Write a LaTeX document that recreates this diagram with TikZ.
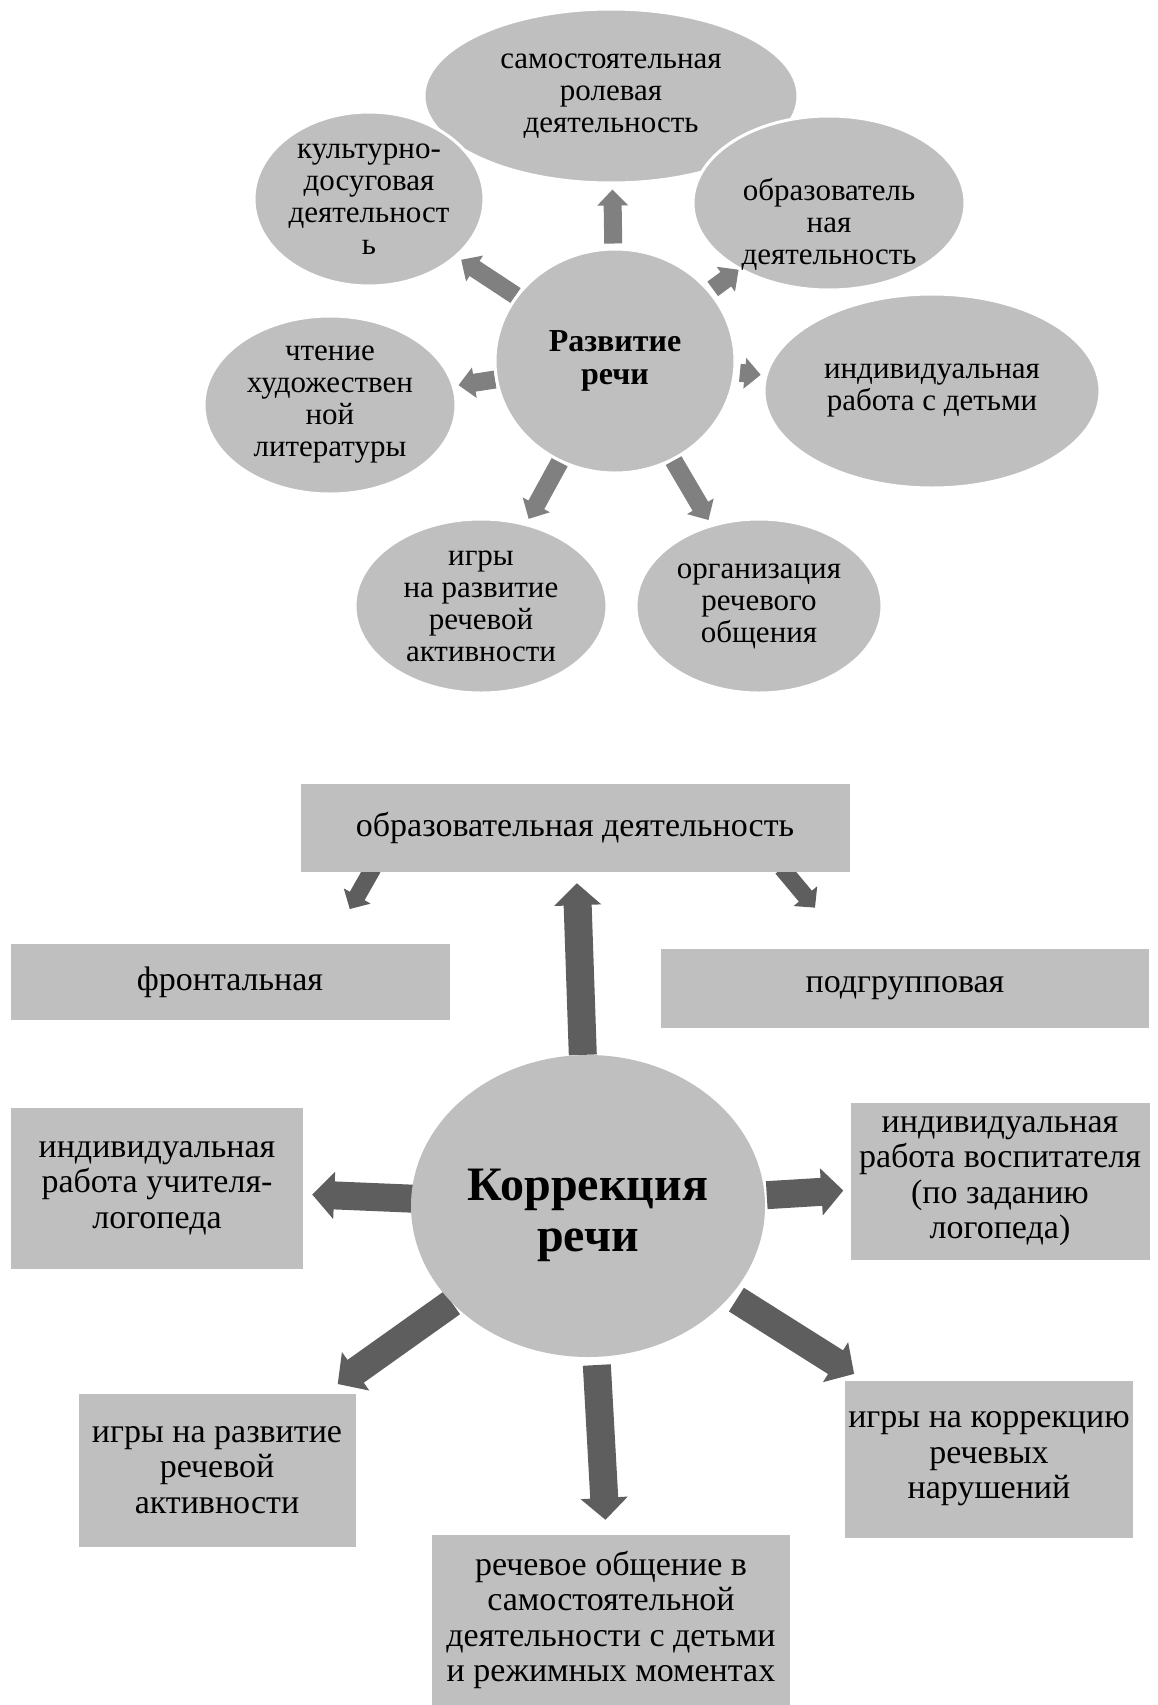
\documentclass[tikz,border=0pt]{standalone}
\usepackage{fontspec}
\setmainfont{Liberation Serif}
\usetikzlibrary{positioning, arrows.meta, calc, shapes.geometric, backgrounds}
\definecolor{ovalgray}{HTML}{BFBFBF}
\definecolor{arrgray}{HTML}{808080}
\definecolor{darkarr}{HTML}{5E5E5E}

\begin{document}
\begin{tikzpicture}[x=1pt, y=-1pt,
		oval/.style={ellipse, fill=ovalgray, draw=white, line width=3pt, align=center, inner sep=0pt, font=\fontsize{31}{32}\selectfont},
		box/.style={rectangle, fill=ovalgray, align=center, inner sep=0pt, font=\fontsize{34}{35.5}\selectfont},
		thinarrow/.style={arrgray, line width=18pt, -{Triangle[width=30pt,length=16pt]}},
		smallarrow/.style={darkarr, line width=17pt, -{Triangle[width=30pt,length=15pt]}},
		fatarrow/.style={darkarr, line width=28pt, -{Triangle[width=46pt,length=22pt]}}]
		
		\useasboundingbox (0,0) rectangle (1157,1705);
		
		% Draw ovals of the upper scheme
		\node[oval, minimum width=374pt, minimum height=174pt] (samo) at (611,96) {самостоятельная\\ролевая\\деятельность};
		\node[oval, minimum width=230pt, minimum height=174pt] (kult) at (369,199) {культурно-\\досуговая\\деятельност\\ь};
		\node[oval, minimum width=272pt, minimum height=174pt, inner ysep=-20pt] (obr) at (829,203) {\mbox{}\\[33pt]образователь\\ная\\деятельность};
		\node[oval, minimum width=336pt, minimum height=194pt] (indiv) at (932,391) {индивидуальная\\работа с детьми};
		\node[oval, minimum width=252pt, minimum height=178pt] (cht) at (330,405) {чтение\\художествен\\ной\\литературы};
		\node[oval, minimum width=252pt, minimum height=174pt] (igry) at (481,606) {игры\\на развитие\\речевой\\активности};
		\node[oval, minimum width=246pt, minimum height=174pt] (org) at (759,606) {организация\\речевого\\общения};
		\node[oval, minimum width=240pt, minimum height=224pt, font=\fontsize{32}{33}\selectfont\bfseries] (razv) at (615,361) {Развитие\\речи};
		
		% Draw boxes of the lower scheme
		\node[box, minimum width=549pt, minimum height=88pt] (obr2) at (575,828) {образовательная деятельность};
		\node[box, minimum width=439pt, minimum height=76pt] (front) at (230,982) {фронтальная};
		\node[box, minimum width=488pt, minimum height=79pt] (podgr) at (905,988) {подгрупповая};
		\node[ellipse, fill=ovalgray, inner sep=0pt, align=center, minimum width=354pt, minimum height=302pt, font=\fontsize{48}{51}\selectfont\bfseries] (kor) at (588,1206) {\mbox{}\\Коррекция\\речи};
		\node[box, minimum width=292pt, minimum height=161pt] (logo) at (157,1188) {индивидуальная\\работа учителя-\\логопеда};
		\node[box, minimum width=299pt, minimum height=157pt] (vosp) at (1000,1181) {индивидуальная\\работа воспитателя\\(по заданию\\логопеда)};
		\node[box, minimum width=277pt, minimum height=153pt] (igr2) at (217,1470) {игры на развитие\\речевой\\активности};
		\node[box, minimum width=288pt, minimum height=157pt] (igrk) at (989,1459) {игры на коррекцию\\речевых\\нарушений};
		\node[box, minimum width=358pt, minimum height=170pt] (obsh) at (611,1620) {речевое общение в\\самостоятельной\\деятельности с детьми\\и режимных моментах};
		
		% Draw arrows
		\begin{scope}[on background layer]
			\draw[thinarrow, shorten <=4pt, shorten >=5pt] (razv) -- (samo);
			\draw[thinarrow, shorten >=5pt] (razv) -- (kult);
			\draw[thinarrow, shorten <=3pt] (razv) -- (obr);
			\draw[thinarrow, shorten <=4pt, shorten >=4pt] (razv) -- (indiv);
			\draw[thinarrow, shorten >=4pt] (razv) -- (cht);
			\draw[thinarrow, shorten >=5pt] (razv) -- (igry);
			\draw[thinarrow, shorten >=5pt] (razv) -- (org);
			
			\draw[fatarrow, shorten >=11pt] (kor) -- (obr2);
			\draw[smallarrow, shorten >=40pt] ([xshift=-202pt, yshift=4pt]obr2.south) -- ([xshift=100pt]front.north);
			\draw[smallarrow, shorten >=53pt] ([xshift=207pt, yshift=4pt]obr2.south) -- ([xshift=-56pt]podgr.north);
			\draw[fatarrow, shorten <=-3pt, shorten >=9pt] (kor) -- (logo);
			\draw[fatarrow, shorten <=2pt, shorten >=7pt] (kor) -- (vosp);
			\draw[fatarrow, shorten >=16pt] (kor) -- (igr2);
			\draw[fatarrow, shorten <=7pt, shorten >=12pt] (kor) -- (igrk);
			\draw[fatarrow, shorten <=8pt, shorten >=15pt] (kor) -- (obsh);
		\end{scope}
		
	\end{tikzpicture}
\end{document}
